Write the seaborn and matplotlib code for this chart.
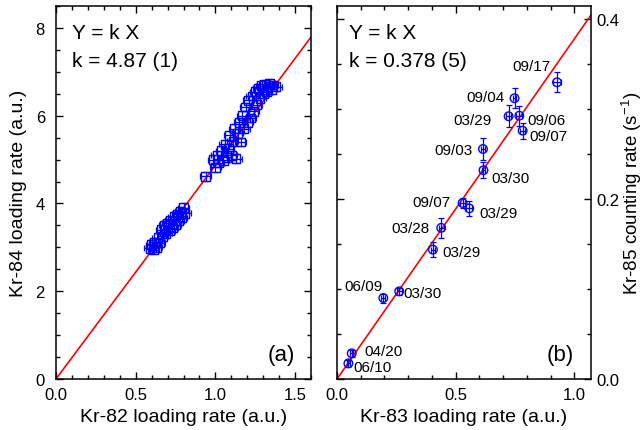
import matplotlib
matplotlib.use("Agg")
import matplotlib.pyplot as plt
from matplotlib.ticker import MultipleLocator, FormatStrFormatter
import pandas as pd
import seaborn as sns

# ---------------- data ----------------
# (a) Kr-84 vs Kr-82 loading rates
x82 = [0.59, 0.60, 0.61, 0.62, 0.63, 0.64, 0.65, 0.66, 0.67, 0.68, 0.69, 0.70,
       0.71, 0.72, 0.73, 0.74, 0.75, 0.76, 0.77, 0.78, 0.79, 0.80, 0.81,
       0.94,
       0.99, 1.00, 1.01, 1.02, 1.04, 1.05, 1.06, 1.07, 1.08, 1.09, 1.10, 1.11,
       1.12, 1.13, 1.14, 1.15, 1.16, 1.17, 1.18, 1.19, 1.20, 1.21, 1.22, 1.23,
       1.24, 1.25, 1.26, 1.27, 1.28, 1.29, 1.30, 1.31, 1.32, 1.33, 1.34, 1.35,
       1.36, 1.38]
y84 = [2.98, 3.06, 2.95, 3.12, 3.00, 3.22, 3.10, 3.40, 3.25, 3.50, 3.32, 3.55,
       3.38, 3.62, 3.45, 3.70, 3.52, 3.75, 3.60, 3.82, 3.68, 3.90, 3.78,
       4.62,
       5.00, 4.82, 5.10, 4.92, 5.20, 4.98, 5.35, 5.05, 5.25, 5.55, 5.10, 5.42,
       5.70, 5.02, 5.60, 5.85, 5.40, 6.00, 5.70, 6.20, 5.85, 6.35, 5.95, 6.45,
       6.10, 6.55, 6.25, 6.62, 6.40, 6.68, 6.50, 6.72, 6.55, 6.65, 6.74, 6.60,
       6.70, 6.66]
x82_err = 0.035
y84_err = 0.10
k_a = 4.87

# (b) Kr-85 counting rate vs Kr-83 loading rate, labelled by date
dates = ["06/10", "04/20", "06/09", "03/30", "03/29", "03/28", "03/29", "09/07",
         "03/30", "09/03", "09/07", "03/29", "09/06", "09/04", "09/17"]
x83 = [0.048, 0.062, 0.195, 0.262, 0.404, 0.439, 0.557, 0.529,
       0.617, 0.615, 0.782, 0.723, 0.768, 0.748, 0.927]
y85 = [0.0174, 0.0285, 0.0900, 0.0974, 0.1437, 0.1680, 0.1896, 0.1956,
       0.2320, 0.2556, 0.2760, 0.2920, 0.2926, 0.3120, 0.3297]
x83_err = [0.006, 0.006, 0.008, 0.011, 0.008, 0.010, 0.012, 0.010,
           0.008, 0.008, 0.010, 0.012, 0.012, 0.008, 0.017]
y85_err = [0.004, 0.004, 0.005, 0.004, 0.008, 0.011, 0.008, 0.006,
           0.009, 0.012, 0.009, 0.012, 0.011, 0.011, 0.011]
k_b = 0.378

# label placement for panel (b): offset in points and alignment
label_offsets = [(3.6, -2.9, "left"), (9.0, 1.4, "left"), (-0.7, 8.4, "right"),
                 (3.0, -1.4, "left"), (7.0, -2.0, "left"), (-8.6, 0.0, "right"),
                 (7.2, -3.6, "left"), (-8.6, 0.7, "right"), (5.8, -5.8, "left"),
                 (-7.2, -1.0, "right"), (5.0, -3.6, "left"), (-12.0, -2.4, "right"),
                 (5.8, -2.9, "left"), (-7.2, 1.2, "right"), (-4.8, 12.0, "right")]

# ---------------- style ----------------
sns.set_theme(style="ticks")
plt.rcParams["font.family"] = ["Liberation Sans", "DejaVu Sans"]
plt.rcParams["mathtext.fontset"] = "custom"
plt.rcParams["mathtext.rm"] = "Liberation Sans"
plt.rcParams["text.color"] = "black"
plt.rcParams["axes.labelcolor"] = "black"
plt.rcParams["xtick.color"] = "black"
plt.rcParams["ytick.color"] = "black"
plt.rcParams["axes.edgecolor"] = "black"
plt.rcParams["axes.linewidth"] = 1.1

BLUE = "#0000ff"
RED = "#ff0000"

fig = plt.figure(figsize=(6.44, 4.31), dpi=100)
W, H = 644.0, 431.0
ax_a = fig.add_axes([56 / W, 51 / H, (311 - 56) / W, 373 / H])
ax_b = fig.add_axes([337 / W, 51 / H, (591 - 337) / W, 373 / H])


def style_axis(ax):
    ax.tick_params(which="both", direction="in", top=True, right=True,
                   bottom=True, left=True, color="black", labelcolor="black")
    ax.tick_params(which="major", length=5, width=1.0, labelsize=12)
    ax.tick_params(which="minor", length=3, width=1.0)
    ax.tick_params(axis="x", which="major", pad=6)
    for s in ax.spines.values():
        s.set_visible(True)
        s.set_color("black")
        s.set_linewidth(1.1)


# ---------------- panel (a) ----------------
df_a = pd.DataFrame({"x": x82, "y": y84})
fit_a = pd.DataFrame({"x": [0.0, 1.6], "y": [0.0, k_a * 1.6]})
sns.lineplot(data=fit_a, x="x", y="y", ax=ax_a, color=RED, linewidth=1.2, zorder=1)
ax_a.errorbar(df_a["x"], df_a["y"], xerr=x82_err, yerr=y84_err, fmt="none",
              ecolor=BLUE, elinewidth=0.9, capsize=2.2, capthick=0.9, zorder=2)
sns.scatterplot(data=df_a, x="x", y="y", ax=ax_a, marker="s", s=40,
                facecolor="none", edgecolor=BLUE, linewidth=1.0, zorder=3)
ax_a.set_xlim(0, 1.6)
ax_a.set_ylim(0, 8.5)
ax_a.xaxis.set_major_locator(MultipleLocator(0.5))
ax_a.xaxis.set_minor_locator(MultipleLocator(0.1))
ax_a.xaxis.set_major_formatter(FormatStrFormatter("%.1f"))
ax_a.yaxis.set_major_locator(MultipleLocator(2))
ax_a.yaxis.set_minor_locator(MultipleLocator(0.5))
ax_a.yaxis.set_major_formatter(FormatStrFormatter("%d"))
style_axis(ax_a)
ax_a.tick_params(axis="y", which="major", pad=8)
ax_a.set_xlabel("Kr-82 loading rate (a.u.)", fontsize=14, labelpad=4)
ax_a.set_ylabel("Kr-84 loading rate (a.u.)", fontsize=14, labelpad=6)
ax_a.text(0.062, 0.93, "Y = k X", transform=ax_a.transAxes, fontsize=15,
          ha="left", va="center")
ax_a.text(0.062, 0.855, "k = 4.87 (1)", transform=ax_a.transAxes, fontsize=15,
          ha="left", va="center")
ax_a.text(0.885, 0.067, "(a)", transform=ax_a.transAxes, fontsize=16,
          ha="center", va="center")

# ---------------- panel (b) ----------------
df_b = pd.DataFrame({"x": x83, "y": y85, "date": dates})
fit_b = pd.DataFrame({"x": [0.0, 1.07], "y": [0.0, k_b * 1.07]})
sns.lineplot(data=fit_b, x="x", y="y", ax=ax_b, color=RED, linewidth=1.2, zorder=1)
ax_b.errorbar(df_b["x"], df_b["y"], xerr=x83_err, yerr=y85_err, fmt="none",
              ecolor=BLUE, elinewidth=0.9, capsize=2.5, capthick=0.9, zorder=2)
sns.scatterplot(data=df_b, x="x", y="y", ax=ax_b, marker="o", s=38,
                facecolor="none", edgecolor=BLUE, linewidth=1.0, zorder=3)
for (xv, yv, lab), (dx, dy, ha) in zip(zip(x83, y85, dates), label_offsets):
    ax_b.annotate(lab, (xv, yv), xytext=(dx, dy), textcoords="offset points",
                  ha=ha, va="center", fontsize=11)
ax_b.set_xlim(0, 1.07)
ax_b.set_ylim(0, 0.4145)
ax_b.xaxis.set_major_locator(MultipleLocator(0.5))
ax_b.xaxis.set_minor_locator(MultipleLocator(0.1))
ax_b.xaxis.set_major_formatter(FormatStrFormatter("%.1f"))
ax_b.yaxis.set_major_locator(MultipleLocator(0.2))
ax_b.yaxis.set_minor_locator(MultipleLocator(0.05))
ax_b.yaxis.set_major_formatter(FormatStrFormatter("%.1f"))
style_axis(ax_b)
ax_b.yaxis.set_label_position("right")
ax_b.tick_params(axis="y", which="both", labelleft=False, labelright=True)
ax_b.tick_params(axis="y", which="major", pad=4)
ax_b.set_xlabel("Kr-83 loading rate (a.u.)", fontsize=14, labelpad=4)
ax_b.set_ylabel("Kr-85 counting rate (s$^{-1}$)", fontsize=13.5, labelpad=0,
                rotation=90)
ax_b.text(0.048, 0.93, "Y = k X", transform=ax_b.transAxes, fontsize=15,
          ha="left", va="center")
ax_b.text(0.048, 0.855, "k = 0.378 (5)", transform=ax_b.transAxes, fontsize=15,
          ha="left", va="center")
ax_b.text(0.878, 0.067, "(b)", transform=ax_b.transAxes, fontsize=16,
          ha="center", va="center")

fig.savefig("out.png", dpi=100)
